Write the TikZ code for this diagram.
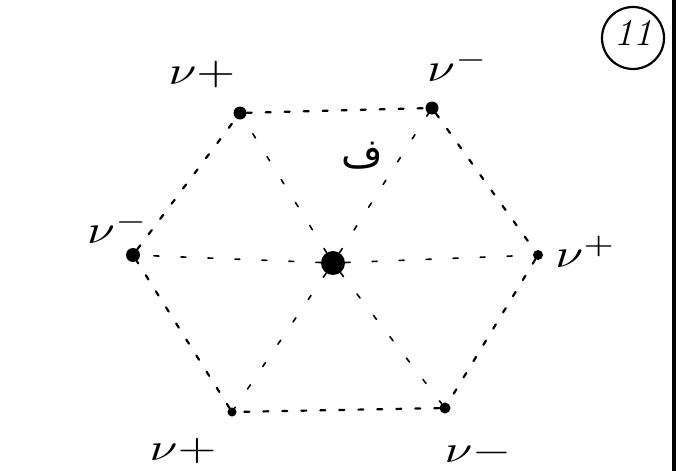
\documentclass[tikz,border=0pt]{standalone}
\usepackage{fontspec}
\newfontfamily\arabicfont[Script=Arabic]{DejaVu Sans}
\TeXXeTstate=1
\begin{document}
\begin{tikzpicture}[x=1pt,y=-1pt,
  edge/.style={line width=2.2pt,dash pattern=on 5pt off 14pt,line cap=round},
  spoke/.style={line width=1.6pt,dash pattern=on 5pt off 22pt,line cap=round},
  vert/.style={circle,fill=black,inner sep=0pt,minimum size=13pt},
  lab/.style={inner sep=0pt}]
\useasboundingbox (0,0) rectangle (681,471);
\node[vert] (A) at (240,113) {};
\node[vert] (B) at (432,108) {};
\node[vert,minimum size=14pt] (L) at (133,255) {};
\node[vert,minimum size=10pt] (R) at (538,255) {};
\node[vert,minimum size=9pt] (D) at (232,412) {};
\node[vert,minimum size=11pt] (E) at (445,408) {};
\node[vert,minimum size=24pt] (O) at (333,263) {};
\draw[edge] (A) -- (B);
\draw[edge] (B) -- (R);
\draw[edge] (R) -- (E);
\draw[edge] (E) -- (D);
\draw[edge] (D) -- (L);
\draw[edge] (L) -- (A);
\foreach \v in {A,B,L,R,D,E} \draw[spoke] (O) -- (\v);
\node[lab] (lA) at (202,74) {\scalebox{5}[4]{$\nu{+}$}};
\node[lab] (lB) at (458,66) {\scalebox{5}[4]{$\nu^{-}$}};
\node[lab] (lL) at (118,228) {\scalebox{5}[4]{$\nu^{-}$}};
\node[lab] (lR) at (586,252) {\scalebox{5}[4]{$\nu^{+}$}};
\node[lab] (lD) at (183,451) {\scalebox{5}[3.8]{$\nu{+}$}};
\node[lab] (lE) at (478,453) {\scalebox{5}[3.8]{$\nu{-}$}};
\node[font=\fontsize{40}{42}\selectfont\arabicfont] (f) at (362,156) {\beginR ف\endR};
\node[draw,circle,line width=2.2pt,minimum size=62pt,inner sep=0pt] (n) at (633,38) {};
\node[font=\fontsize{38}{40}\selectfont\itshape] (t) at (633,33) {11};
\draw[line width=4.5pt] (674,0) -- (674,471);
\end{tikzpicture}
\end{document}
